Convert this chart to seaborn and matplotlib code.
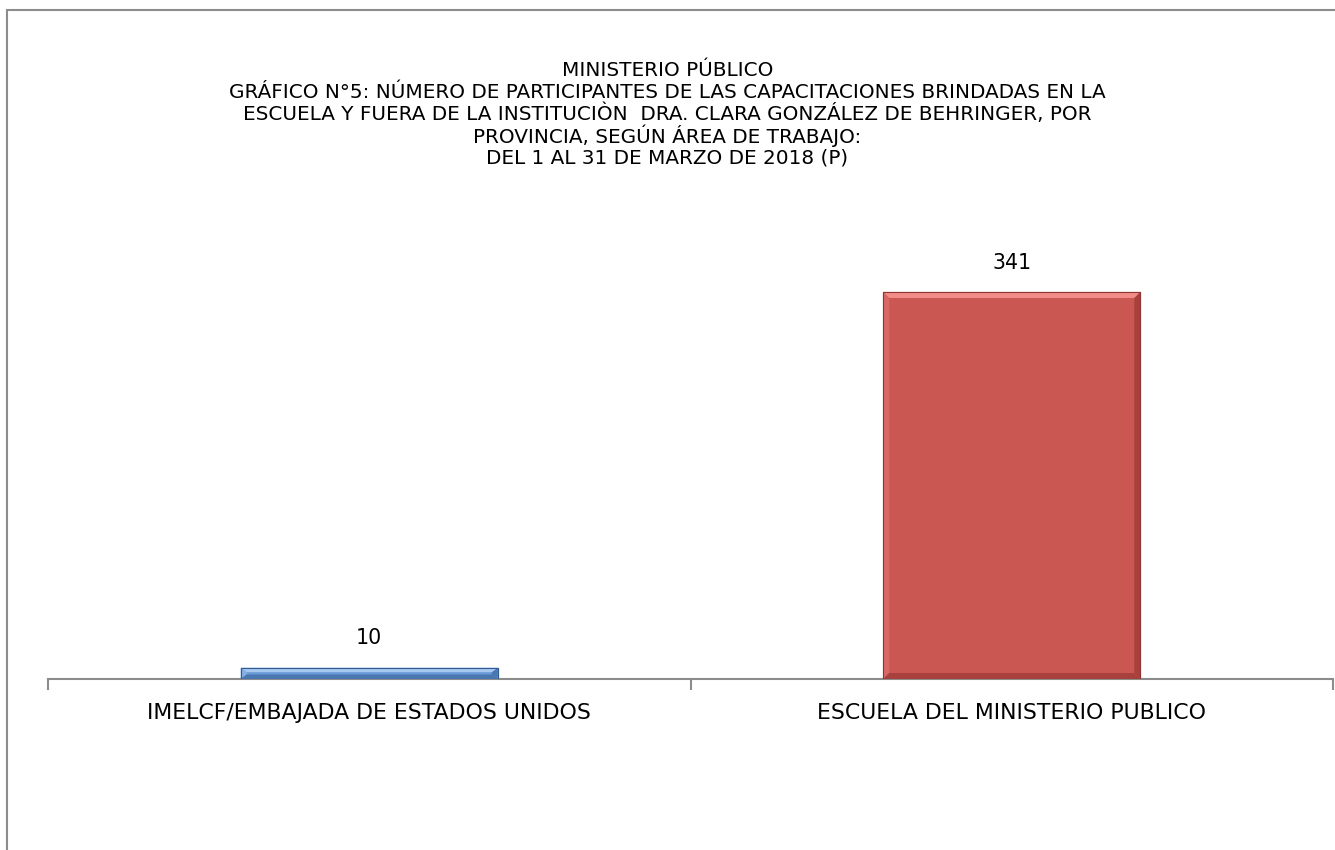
import matplotlib
matplotlib.use("Agg")
import matplotlib.pyplot as plt
import seaborn as sns
import pandas as pd
from matplotlib.patches import Rectangle, Polygon

categories = ["IMELCF/EMBAJADA DE ESTADOS UNIDOS", "ESCUELA DEL MINISTERIO PUBLICO"]
values = [10, 341]
bar_colors = ["#6A9AD8", "#CB5753"]
edge_colors = ["#2E5C93", "#8E3633"]
top_colors = ["#A9C8F0", "#F28C89"]
side_dark = ["#4A77B0", "#A8413E"]
side_light = ["#85AEE3", "#D86865"]

title_lines = [
    "MINISTERIO PÚBLICO",
    "GRÁFICO N°5: NÚMERO DE PARTICIPANTES DE LAS CAPACITACIONES BRINDADAS EN LA",
    "ESCUELA Y FUERA DE LA INSTITUCIÒN  DRA. CLARA GONZÁLEZ DE BEHRINGER, POR",
    "PROVINCIA, SEGÚN ÁREA DE TRABAJO:",
    "DEL 1 AL 31 DE MARZO DE 2018 (P)",
]

sns.set_theme(style="white")
plt.rcParams['font.family'] = ['DejaVu Sans']

W, H = 1335, 850
fig = plt.figure(figsize=(W / 100, H / 100), dpi=100)
ax_w_px, ax_h_px = 1333 - 48, 679 - 225
ax = fig.add_axes([48 / W, 1 - 679 / H, ax_w_px / W, ax_h_px / H])

df = pd.DataFrame({"cat": categories, "val": values})
sns.barplot(data=df, x="cat", y="val", hue="cat", palette=bar_colors,
            width=0.40, legend=False, ax=ax, saturation=1)

ymax = 400
ax.set_ylim(0, ymax)
ax.set_xlim(-0.5, 1.5)

# bevel decoration derived from each bar's geometry
bx = 6 * 2.0 / ax_w_px
by = 6 * ymax / ax_h_px
for p, ec, tc, sd, sl in zip(list(ax.patches), edge_colors, top_colors, side_dark, side_light):
    x0, w, h = p.get_x(), p.get_width(), p.get_height()
    x1 = x0 + w
    p.set_edgecolor(ec)
    p.set_linewidth(0.8)
    b = min(by, h / 2.5)
    ax.add_patch(Polygon([(x0, h), (x0, 0), (x0 + bx, b), (x0 + bx, h - b)],
                         closed=True, facecolor=sl, edgecolor="none", zorder=3))
    ax.add_patch(Polygon([(x1, h), (x1, 0), (x1 - bx, b), (x1 - bx, h - b)],
                         closed=True, facecolor=sd, edgecolor="none", zorder=3))
    ax.add_patch(Polygon([(x0, 0), (x1, 0), (x1 - bx, b), (x0 + bx, b)],
                         closed=True, facecolor=sd, edgecolor="none", zorder=3))
    ax.add_patch(Polygon([(x0, h), (x1, h), (x1 - bx, h - b), (x0 + bx, h - b)],
                         closed=True, facecolor=tc, edgecolor="none", zorder=3))
    ax.add_patch(Rectangle((x0, 0), w, h, fill=False, edgecolor=ec, linewidth=0.8, zorder=4))

ax.set_xlabel("")
ax.set_ylabel("")
ax.set_yticks([])
for s in ["left", "right", "top"]:
    ax.spines[s].set_visible(False)
ax.spines["bottom"].set_color("#8C8C8C")
ax.spines["bottom"].set_linewidth(1.5)
ax.set_xticks([-0.5, 0.5, 1.5], minor=True)
ax.tick_params(axis="x", which="minor", length=8, width=1.5, color="#8C8C8C", direction="out", bottom=True)
ax.tick_params(axis="x", which="major", length=0, pad=17, labelsize=15.8, labelcolor="#000000")

for i, v in enumerate(values):
    ax.annotate(str(v), (i, v), xytext=(0, 14), textcoords="offset points",
                ha="center", va="bottom", fontsize=14.8, color="#000000")

y0 = 1 - 70 / H
for k, line in enumerate(title_lines):
    fig.text(0.5, y0 - k * 22 / H, line, ha="center", va="center",
             fontsize=14.4, color="#000000")

border = Rectangle((7 / W, -0.1), 1.2, 1.1 - 10 / H, transform=fig.transFigure,
                   fill=False, edgecolor="#8C8C8C", linewidth=1.5)
fig.patches.append(border)

fig.savefig("out.png", dpi=100)
